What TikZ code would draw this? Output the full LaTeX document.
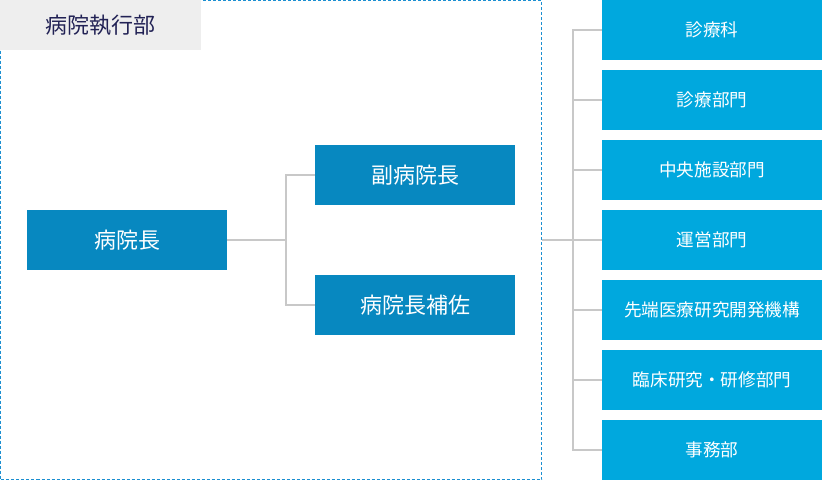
\documentclass[tikz,border=0pt]{standalone}
\usepackage{fontspec}
\setmainfont{Noto Sans CJK JP}
\definecolor{darkbox}{HTML}{0788C0}
\definecolor{lightbox}{HTML}{00A8DE}
\definecolor{dashblue}{HTML}{1B8FD1}
\definecolor{linegray}{HTML}{C8C8C8}
\definecolor{labelgray}{HTML}{EEEEEE}
\definecolor{labeltext}{HTML}{222255}
\tikzset{
  midbox/.style={fill=darkbox, draw=none, text=white, minimum width=200pt, minimum height=60pt, inner sep=0pt, font=\fontsize{22}{26}\selectfont},
  unitbox/.style={fill=lightbox, draw=none, text=white, minimum width=220pt, minimum height=60pt, inner sep=0pt, font=\fontsize{17.6}{21}\selectfont},
  conn/.style={draw=linegray, line width=2pt},
}
\begin{document}
\begin{tikzpicture}[x=1pt,y=-1pt]
\useasboundingbox (0,0) rectangle (822,480);
% dashed frame
\draw[dashblue, line width=1.1pt, dash pattern=on 3pt off 2pt] (0.5,0.5) rectangle (541.5,479.5);
% label
\node[fill=labelgray, minimum width=201pt, minimum height=50pt, inner sep=0pt, anchor=north west, text=labeltext, font=\fontsize{22}{26}\selectfont] (label) at (0,0) {病院執行部};
% executive nodes
\node[midbox] (dir) at (127,240) {病院長};
\node[midbox] (vice) at (415,175) {副病院長};
\node[midbox] (asst) at (415,305) {病院長補佐};
\coordinate (j1) at (286,240);
\draw[conn] (dir.east) -- (j1);
\draw[conn] (vice.west) -- (286,175) -- (286,305) -- (asst.west);
% right units
\node[unitbox] (u1) at (712,30) {診療科};
\node[unitbox] (u2) at (712,100) {診療部門};
\node[unitbox] (u3) at (712,170) {中央施設部門};
\node[unitbox] (u4) at (712,240) {運営部門};
\node[unitbox] (u5) at (712,310) {先端医療研究開発機構};
\node[unitbox] (u6) at (712,380) {臨床研究・研修部門};
\node[unitbox] (u7) at (712,450) {事務部};
\coordinate (frameR) at (541.5,240);
\coordinate (trunk) at (573,240);
\draw[conn] (frameR) -- (trunk);
\draw[conn] (u1.west) -- (573,30) -- (573,450) -- (u7.west);
\foreach \n/\y in {u2/100,u3/170,u4/240,u5/310,u6/380}
  \draw[conn] (573,\y) -- (\n.west);
\end{tikzpicture}
\end{document}
